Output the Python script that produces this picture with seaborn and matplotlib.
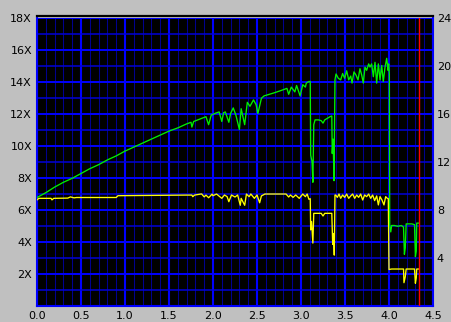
import matplotlib
matplotlib.use("Agg")
import matplotlib.pyplot as plt
import matplotlib.transforms as mtransforms
from matplotlib.ticker import MultipleLocator
import seaborn as sns

# ---------------- data ----------------
green_x = [0.00, 0.10, 0.20, 0.30, 0.40, 0.50, 0.60, 0.70, 0.80, 0.90,
           1.00, 1.10, 1.20, 1.30, 1.40, 1.50, 1.60, 1.70, 1.75, 1.76,
           1.78, 1.85, 1.92, 1.95, 1.98, 2.02, 2.07, 2.10, 2.12, 2.14,
           2.18, 2.20, 2.23, 2.26, 2.30, 2.32, 2.36, 2.39, 2.42, 2.46,
           2.49, 2.51, 2.55, 2.58, 2.61, 2.70, 2.78, 2.84, 2.86, 2.89,
           2.93, 2.95, 2.99, 3.02, 3.05, 3.06, 3.09, 3.105, 3.11, 3.125,
           3.135, 3.145, 3.16, 3.20, 3.23, 3.25, 3.27, 3.30, 3.33, 3.35,
           3.355, 3.365, 3.375, 3.386, 3.398, 3.424, 3.451, 3.473, 3.496, 3.519,
           3.542, 3.565, 3.580, 3.602, 3.625, 3.648, 3.670, 3.690, 3.708, 3.727,
           3.746, 3.769, 3.784, 3.803, 3.822, 3.841, 3.860, 3.879, 3.898, 3.917,
           3.935, 3.955, 3.974, 3.989, 3.996, 4.004, 4.008, 4.02, 4.03, 4.06,
           4.10, 4.14, 4.165, 4.175, 4.185, 4.195, 4.22, 4.26, 4.29, 4.30,
           4.31, 4.315, 4.34]
green_speed = [6.75, 7.05, 7.40, 7.70, 7.95, 8.25, 8.55, 8.80, 9.10, 9.35,
               9.65, 9.90, 10.15, 10.40, 10.65, 10.90, 11.10, 11.35, 11.45, 11.15,
               11.50, 11.65, 11.80, 11.30, 11.90, 12.00, 12.10, 11.50, 12.05, 12.10,
               11.45, 12.00, 12.35, 11.90, 11.00, 12.30, 11.30, 12.70, 12.45, 12.85,
               12.55, 12.00, 12.95, 13.10, 13.15, 13.30, 13.45, 13.57, 13.20, 13.65,
               13.35, 13.75, 13.10, 13.80, 13.65, 13.90, 14.00, 14.00, 9.40, 9.00,
               7.70, 11.30, 11.60, 11.60, 11.55, 11.40, 11.60, 11.70, 11.80, 11.85,
               9.50, 10.40, 7.80, 14.10, 14.47, 14.20, 14.10, 14.50, 14.20, 14.67,
               14.10, 14.34, 13.90, 14.60, 14.40, 14.10, 14.80, 14.40, 13.90, 14.90,
               14.70, 15.10, 14.90, 15.10, 14.30, 15.20, 13.90, 15.10, 14.10, 15.00,
               14.00, 14.90, 15.45, 14.70, 15.10, 14.47, 5.00, 4.60, 5.00, 5.00,
               4.95, 5.00, 4.90, 3.20, 3.60, 5.10, 5.10, 5.10, 5.05, 3.05,
               3.40, 5.15, 5.15]

yellow_x = [0.00, 0.02, 0.16, 0.17, 0.19, 0.35, 0.38, 0.42, 0.45, 0.90,
            0.92, 1.70, 1.76, 1.77, 1.79, 1.87, 1.90, 1.92, 1.95, 1.99,
            2.00, 2.04, 2.10, 2.13, 2.16, 2.18, 2.21, 2.25, 2.28, 2.31,
            2.32, 2.36, 2.38, 2.41, 2.43, 2.47, 2.50, 2.53, 2.55, 2.59,
            2.83, 2.86, 2.88, 2.91, 2.94, 2.98, 3.02, 3.05, 3.07, 3.09,
            3.105, 3.11, 3.12, 3.135, 3.145, 3.23, 3.25, 3.27, 3.35, 3.36,
            3.37, 3.378, 3.386, 3.394, 3.413, 3.432, 3.451, 3.473, 3.496, 3.519,
            3.542, 3.565, 3.587, 3.610, 3.633, 3.655, 3.678, 3.701, 3.723, 3.746,
            3.769, 3.792, 3.814, 3.837, 3.860, 3.879, 3.898, 3.920, 3.943, 3.962,
            3.981, 3.992, 4.00, 4.03, 4.165, 4.17, 4.185, 4.195, 4.29, 4.30,
            4.31, 4.315, 4.34]
yellow_value = [8.80, 8.93, 8.93, 8.80, 8.93, 8.95, 9.05, 8.97, 9.00, 9.00,
                9.15, 9.20, 9.20, 9.07, 9.20, 9.30, 9.05, 9.20, 8.98, 9.28,
                9.15, 9.29, 8.93, 9.21, 9.07, 8.65, 9.21, 9.04, 9.21, 8.35,
                8.93, 8.35, 9.29, 9.07, 9.29, 8.93, 9.21, 8.56, 9.13, 9.29,
                9.29, 9.04, 9.21, 9.01, 9.21, 8.93, 9.29, 9.07, 9.29, 8.85,
                8.90, 6.30, 7.00, 5.20, 7.68, 7.68, 7.46, 7.68, 7.68, 5.10,
                6.00, 4.20, 9.20, 9.21, 9.01, 9.29, 8.93, 9.21, 9.01, 9.29,
                8.93, 9.13, 9.29, 8.93, 9.21, 9.01, 9.29, 8.79, 9.21, 9.07,
                9.29, 8.93, 9.21, 8.74, 9.13, 8.38, 9.07, 8.79, 8.38, 9.07,
                8.93, 8.90, 3.00, 3.04, 3.04, 1.90, 2.40, 3.04, 3.04, 1.85,
                2.30, 3.04, 3.04]

marker_pos = [4.34]

x_ticks = [0.0, 0.5, 1.0, 1.5, 2.0, 2.5, 3.0, 3.5, 4.0, 4.5]
x_tick_labels = ["0.0", "0.5", "1.0", "1.5", "2.0", "2.5", "3.0", "3.5", "4.0", "4.5"]
left_ticks = [0, 2, 4, 6, 8, 10, 12, 14, 16, 18]
left_tick_labels = ["", "2X", "4X", "6X", "8X", "10X", "12X", "14X", "16X", "18X"]
right_ticks = [4, 8, 12, 16, 20, 24]
right_tick_labels = ["4", "8", "12", "16", "20", "24"]

# ---------------- figure ----------------
plt.rcParams['font.family'] = ['DejaVu Sans']
W, H = 451, 322
fig = plt.figure(figsize=(W / 100, H / 100), dpi=100, facecolor='#c0c0c0')
left_px, right_px, top_px, bottom_px = 37, 433, 17.5, 305.5
ax = fig.add_axes([left_px / W, (H - bottom_px) / H,
                   (right_px - left_px) / W, (bottom_px - top_px) / H])
ax.set_facecolor('black')
ax.set_xlim(0, 4.5)
ax.set_ylim(0, 18)
ax.set_xticks(x_ticks)
ax.set_xticklabels(x_tick_labels)
ax.set_yticks(left_ticks)
ax.set_yticklabels(left_tick_labels)
ax.xaxis.set_minor_locator(MultipleLocator(0.1))
ax.yaxis.set_minor_locator(MultipleLocator(1))
ax.set_axisbelow(True)
ax.grid(which='minor', axis='x', color='#000090', lw=0.75)
ax.grid(which='minor', axis='y', color='#0000d8', lw=1.1)
ax.grid(which='major', axis='x', color='#0000ff', lw=1.5)
ax.grid(which='major', axis='y', color='#0000ff', lw=1.4)
ax.tick_params(which='both', length=0)
ax.tick_params(axis='y', labelsize=8, pad=3.6, colors='black')
ax.tick_params(axis='x', labelsize=8, pad=4.2, colors='black')
for lab in ax.get_xticklabels():
    lab.set_transform(lab.get_transform() +
                      mtransforms.ScaledTranslation(3 / 100, 0, fig.dpi_scale_trans))
for side in ['left', 'bottom', 'right']:
    ax.spines[side].set_color('#0000ff')
    ax.spines[side].set_linewidth(1.5)
ax.spines['top'].set_color('black')
ax.spines['top'].set_linewidth(1.6)
ax.spines['top'].set_position(('outward', 1.2))
ax.set_xlabel('')
ax.set_ylabel('')

# yellow series on right scale
ax2 = ax.twinx()
ax2.set_ylim(0, 24)
sns.lineplot(x=yellow_x, y=yellow_value, ax=ax2, color='#ffff00', lw=0.95,
             estimator=None, sort=False, legend=False)
ax2.set_yticks(right_ticks)
ax2.set_yticklabels(right_tick_labels)
ax2.tick_params(axis='y', length=0, labelsize=8, pad=2.8, colors='black')
for s in ax2.spines.values():
    s.set_visible(False)
ax2.set_ylabel('')

# green series on left scale (drawn on top)
ax3 = ax.twinx()
ax3.set_ylim(0, 18)
sns.lineplot(x=green_x, y=green_speed, ax=ax3, color='#00f000', lw=0.95,
             estimator=None, sort=False, legend=False)
for xv in marker_pos:
    ax3.axvline(xv, color='#ff0000', lw=1.0)
ax3.set_axis_off()
ax3.set_xlim(0, 4.5)

fig.savefig('out.png', dpi=100, facecolor=fig.get_facecolor())
